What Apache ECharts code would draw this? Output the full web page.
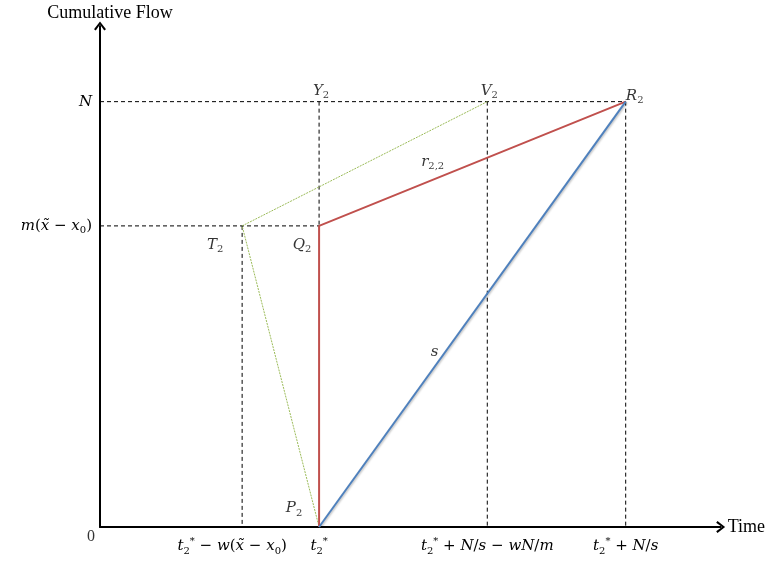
<!DOCTYPE html>
<html>
<head>
<meta charset="utf-8">
<script src="https://cdn.jsdelivr.net/npm/echarts@6/dist/echarts.min.js"></script>
<style>
  html, body { margin: 0; padding: 0; background: #fff; }
  #chart { width: 768px; height: 561px; }
</style>
</head>
<body>
<div id="chart"></div>
<script>
// key positions (arbitrary units, axes 0..100)
const xT2 = 22.9;   // t2* - w(x~ - x0)
const xT = 35.3;    // t2*
const xV2 = 62.4;   // t2* + N/s - wN/m
const xR2 = 84.7;   // t2* + N/s
const yN = 84.9;    // N
const yM = 60.1;    // m(x~ - x0)

// tick labels
const xTickValues = [xT2, xT, xV2, xR2];
const xTickLabels = [
  '{i|t}{sb|2}{sp|*}{r| − }{i|w}{r|(}{i|x̃}{r| − }{i|x}{sb|0}{pad|)}',
  '{i|t}{sb|2}{sp|*}',
  '{i|t}{sb|2}{sp|*}{r| + }{i|N}{r|/}{i|s}{r| − }{i|wN}{r|/}{i|m}',
  '{i|t}{sb|2}{sp|*}{r| + }{i|N}{r|/}{i|s}'
];
const yTickValues = [yM, yN];
const yTickLabels = ['{i|m}{r|(}{i|x̃}{r| − }{i|x}{sb|0}{r|)}', '{i|N}'];

// lines
const redLine = [[xT, 0], [xT, yM], [xR2, yN]];
const blueLine = [[xT, 0], [xR2, yN]];
const greenLine = [[xV2, yN], [xT2, yM], [xT, 0]];
const dashSegs = [
  [[0, yN], [xR2, yN]],
  [[0, yM], [xT, yM]],
  [[xT2, yM], [xT2, 0]],
  [[xT, yN], [xT, yM]],
  [[xV2, yN], [xV2, 0]],
  [[xR2, yN], [xR2, 0]]
];

// point / line labels
const pointLabels = [
  { value: [xT, yN], text: '{i|Y}{sb|2}', offset: [2, -11] },
  { value: [xV2, yN], text: '{i|V}{sb|2}', offset: [2, -11] },
  { value: [xR2, yN], text: '{i|R}{sb|2}', offset: [9, -6] },
  { value: [xT2, yM], text: '{i|T}{sb|2}', offset: [-27, 19] },
  { value: [xT, yM], text: '{i|Q}{sb|2}', offset: [-17, 19] },
  { value: [xT, 0], text: '{i|P}{sb|2}', offset: [-25, -19] },
  { value: [53.6, 72.9], text: '{i|r}{sb|2,2}', offset: [0, 0] },
  { value: [53.9, 35.0], text: '{i|s}', offset: [0, 0] },
  { value: [0, 0], text: '{n|0}', offset: [-9, 10] }
];

const mathFont = 'DejaVu Serif';
const rich = {
  i: { fontFamily: mathFont, fontStyle: 'italic', fontSize: 15, color: '#000', lineHeight: 20 },
  r: { fontFamily: mathFont, fontSize: 15, color: '#000', lineHeight: 20 },
  pad: { fontFamily: mathFont, fontSize: 15, color: '#000', lineHeight: 20, padding: [0, 20, 0, 0] },
  n: { fontFamily: 'Liberation Serif', fontSize: 16, color: '#000', lineHeight: 20 },
  sb: { fontFamily: mathFont, fontSize: 10, color: '#000', verticalAlign: 'bottom', lineHeight: 12 },
  sp: { fontFamily: mathFont, fontSize: 10, color: '#000', verticalAlign: 'top', lineHeight: 12 }
};

// open arrow head for the axes
const chevron = 'path://M0,7 L5.5,0 L11,7 L9.4,8.2 L5.5,2.8 L1.6,8.2 Z';

const chart = echarts.init(document.getElementById('chart'));

const series = [];
dashSegs.forEach(seg => {
  series.push({
    type: 'line', data: seg, symbol: 'none', silent: true,
    lineStyle: { color: '#000', width: 1, type: [4, 3] }
  });
});
series.push({
  type: 'line', data: greenLine, symbol: 'none',
  lineStyle: { color: '#9bbb59', width: 1, type: [2, 1] }
});
series.push({
  type: 'line', data: redLine, symbol: 'none',
  lineStyle: { color: '#c0504d', width: 2 }
});
series.push({
  type: 'line', data: blueLine, symbol: 'none',
  lineStyle: { color: '#4f81bd', width: 2, shadowColor: 'rgba(0,0,0,0.25)', shadowBlur: 2, shadowOffsetX: 1, shadowOffsetY: 1 }
});
series.push({
  type: 'scatter', symbolSize: 0, silent: true,
  data: pointLabels.map(p => ({
    value: p.value,
    label: { show: true, position: 'inside', offset: p.offset, formatter: p.text, rich: rich }
  }))
});

chart.setOption({
  animation: false,
  backgroundColor: '#fff',
  grid: { left: 100, right: 47, top: 26, bottom: 34 },
  xAxis: {
    type: 'value', min: 0, max: 100,
    name: 'Time', nameLocation: 'end', nameGap: 7,
    nameTextStyle: { fontFamily: 'Liberation Serif', fontSize: 18, color: '#000' },
    axisLine: { lineStyle: { color: '#000', width: 2 }, symbol: ['none', chevron], symbolSize: [12, 9] },
    axisTick: { show: false },
    splitLine: { show: false },
    axisLabel: {
      customValues: xTickValues, margin: 9,
      formatter: v => xTickLabels[xTickValues.indexOf(v)] || '',
      rich: rich
    }
  },
  yAxis: {
    type: 'value', min: 0, max: 100,
    name: 'Cumulative Flow', nameLocation: 'end', nameGap: 4,
    nameTextStyle: { fontFamily: 'Liberation Serif', fontSize: 18, color: '#000', align: 'center', padding: [0, 0, 0, 20] },
    axisLine: { lineStyle: { color: '#000', width: 2 }, symbol: ['none', chevron], symbolSize: [12, 9] },
    axisTick: { show: false },
    splitLine: { show: false },
    axisLabel: {
      customValues: yTickValues, margin: 8,
      formatter: v => yTickLabels[yTickValues.indexOf(v)] || '',
      rich: rich
    }
  },
  series: series
});
</script>
</body>
</html>
